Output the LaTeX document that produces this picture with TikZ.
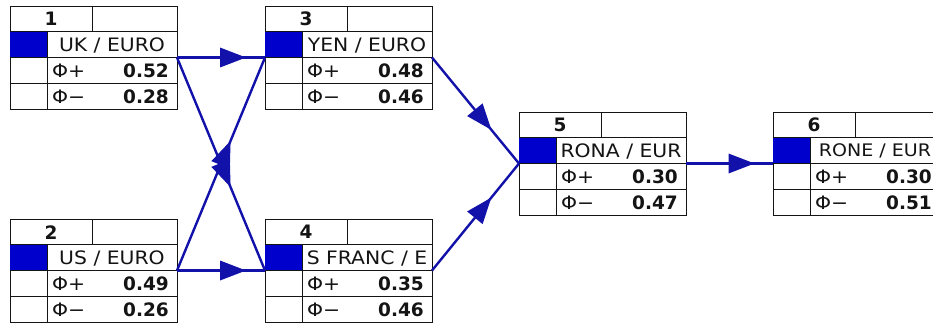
\documentclass[tikz,border=0pt]{standalone}
\usepackage{fontspec}
\setmainfont{DejaVu Sans}[FakeStretch=1.1]
\newfontfamily\numfont{DejaVu Sans}
\usetikzlibrary{decorations.markings}
\definecolor{cellblue}{RGB}{0,0,205}
\definecolor{lineblue}{RGB}{18,18,170}
\definecolor{ink}{RGB}{20,20,20}
\tikzset{
  tblbox/.style={draw=ink, line width=1pt, fill=white, minimum width=167pt, minimum height=103pt, inner sep=0pt, outer sep=0pt, anchor=north west},
  grid/.style={draw=ink, line width=1pt},
  txt/.style={inner sep=0pt, text=ink, font=\fontsize{18.5}{20}\selectfont},
  numtxt/.style={inner sep=0pt, text=ink, font=\numfont\bfseries\fontsize{18.5}{20}\selectfont},
  conn/.style={draw=lineblue, line width=2.4pt, postaction={decorate},
    decoration={markings, mark=at position 0.5 with {\fill[lineblue] (-1pt,-10pt) -- (25pt,0pt) -- (-1pt,10pt) -- cycle;}}}
}
\newcommand\tbl[7]{%
  \begin{scope}[shift={(#2,#3)}]
    \node[tblbox] (#1) at (0,0) {};
    \fill[cellblue] (0,25.75) rectangle (37,51.5);
    \draw[grid] (0,25.75) -- (167,25.75) (0,51.5) -- (167,51.5) (0,77.25) -- (167,77.25)
      (82,0) -- (82,25.75) (37,25.75) -- (37,103);
    \node[numtxt] (#1num) at (41,13.2) {#4};
    \node[txt] (#1lab) at (102,39) {#5};
    \node[txt, anchor=west] (#1pl) at (42,64.6) {Φ+};
    \node[numtxt, anchor=east] (#1pv) at (159,64.6) {#6};
    \node[txt, anchor=west] (#1mi) at (42,90.4) {Φ−};
    \node[numtxt, anchor=east] (#1mv) at (159,90.4) {#7};
  \end{scope}}
\begin{document}
\begin{tikzpicture}[x=1pt, y=-1pt]
  \useasboundingbox (0,0) rectangle (933,327);
  \clip (0,0) rectangle (933,327);
  \fill[white] (0,0) rectangle (933,327);
  \tbl{n1}{10}{6}{1}{UK / EURO}{0.52}{0.28}
  \tbl{n2}{10}{219}{2}{US / EURO}{0.49}{0.26}
  \tbl{n3}{265}{6}{3}{YEN / EURO}{0.48}{0.46}
  \tbl{n4}{265}{219}{4}{S FRANC / E}{0.35}{0.46}
  \tbl{n5}{519}{112}{5}{RONA / EUR}{0.30}{0.47}
  \tbl{n6}{773}{112}{6}{\fontsize{17.3}{20}\selectfont RONE / EUR}{0.30}{0.51}
  \draw[conn] (n1.east) -- (n3.west);
  \draw[conn] (n1.east) -- (n4.west);
  \draw[conn] (n2.east) -- (n3.west);
  \draw[conn] (n2.east) -- (n4.west);
  \draw[conn] (n3.east) -- (n5.west);
  \draw[conn] (n4.east) -- (n5.west);
  \draw[conn] (n5.east) -- (n6.west);
\end{tikzpicture}
\end{document}
